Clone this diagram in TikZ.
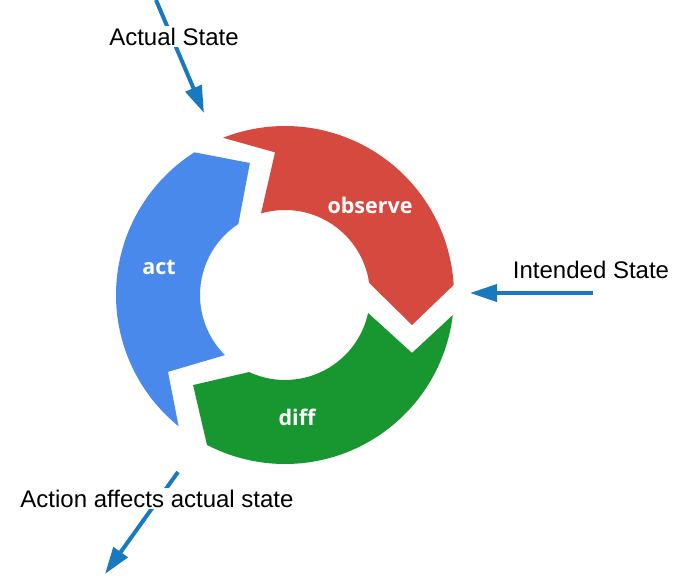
\documentclass[tikz,border=0pt]{standalone}
\usepackage{fontspec}
\setmainfont{Liberation Sans}
\newfontfamily\segfont{Open Sans}
\usetikzlibrary{arrows.meta}
\definecolor{segred}{RGB}{213,73,62}
\definecolor{segblue}{RGB}{74,137,236}
\definecolor{seggreen}{RGB}{24,150,48}
\definecolor{arrowblue}{RGB}{24,121,190}
\begin{document}
\begin{tikzpicture}[x=1pt,y=1pt,
  seglabel/.style={text=white,font=\segfont\bfseries\fontsize{21.5}{24}\selectfont,inner sep=0pt},
  caption/.style={font=\fontsize{24}{28}\selectfont, text=black, anchor=base, inner sep=2pt},
  pointer/.style={draw=arrowblue, line width=4pt, -{Triangle[length=27pt,width=17pt]}}]
\useasboundingbox (0,0) rectangle (687,-576);
% ring segments
\begin{scope}[shift={(285,-295)}]
  \fill[segred] (111.5:169) arc[start angle=111.5,end angle=3.4,radius=169]
    -- (-13.3:130.5) -- (8.2:85) arc[start angle=8.2,end angle=106.4,radius=85]
    -- (94:143) -- cycle;
  \fill[seggreen] (-6.8:169) arc[start angle=-6.8,end angle=-117.5,radius=169]
    -- (-135.6:128.7) -- (-115:85) arc[start angle=-115,end angle=-12.2,radius=85]
    -- (-24.5:139.6) -- cycle;
  \fill[segblue] (231:169) arc[start angle=231,end angle=122.4,radius=169]
    -- (104.9:136.6) -- (123.3:85) arc[start angle=123.3,end angle=225,radius=85]
    -- (213.3:140) -- cycle;
\end{scope}
\node[seglabel] (observe) at (370,-205) {observe};
\node[seglabel] (act) at (159,-267) {act};
\node[seglabel] (diff) at (297,-417) {diff};
% pointers
\coordinate (actualFrom) at (156,0);
\coordinate (actualTo) at (204,-113);
\coordinate (intendedFrom) at (593,-293);
\coordinate (intendedTo) at (470,-293);
\coordinate (actionFrom) at (178,-472);
\coordinate (actionTo) at (105,-574);
\draw[pointer] (actualFrom) -- (actualTo);
\draw[pointer] (intendedFrom) -- (intendedTo);
\draw[pointer] (actionFrom) -- (actionTo);
% captions
\node[caption, fill=white] (actual) at (174,-45) {Actual State};
\node[caption] (intended) at (591,-278) {Intended State};
\node[caption, fill=white] (action) at (157,-507) {Action affects actual state};
\end{tikzpicture}
\end{document}
